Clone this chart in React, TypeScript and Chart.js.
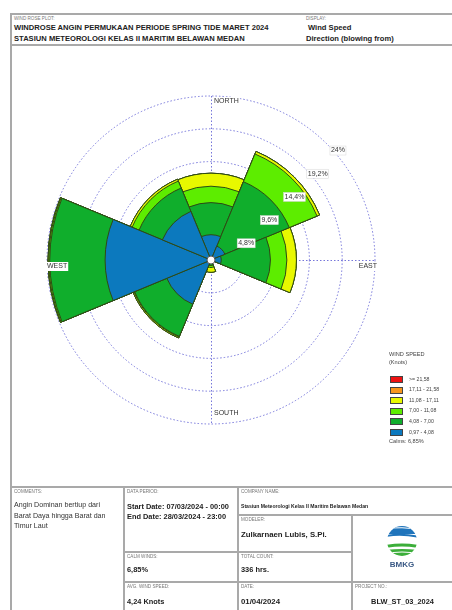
import React, { useEffect, useRef } from "react";
import { Chart, registerables } from "chart.js";

Chart.register(...registerables);

// ---------- data ----------
const DIRECTIONS = ["N", "NE", "E", "SE", "S", "SW", "W", "NW"];
// frequency (%) per direction for each wind speed class (knots)
const FREQ_097_408 = [3.7, 2.2, 1.5, 0, 0.4, 7.0, 15.5, 7.7];
const FREQ_408_700 = [4.7, 10.2, 7.2, 0, 0.4, 5.1, 8.1, 3.7];
const FREQ_700_1108 = [2.4, 4.4, 2.4, 0, 0.3, 0.1, 0.15, 1.1];
const FREQ_1108_1711 = [1.9, 0.4, 1.4, 0, 0.7, 0.15, 0.1, 0.3];
const FREQ_1711_2158 = [0, 0, 0, 0, 0, 0, 0, 0];
const FREQ_GE_2158 = [0, 0, 0, 0, 0, 0, 0, 0];

const SPEED_CLASSES = ["0,97 - 4,08", "4,08 - 7,00", "7,00 - 11,08", "11,08 - 17,11", "17,11 - 21,58", ">= 21,58"];
const CLASS_COLORS = ["#0c79be", "#10ae2c", "#5ded00", "#e8f800", "#f7961c", "#ee1212"];

const RING_VALUES = [4.8, 9.6, 14.4, 19.2, 24];
const RING_LABELS = ["4,8%", "9,6%", "14,4%", "19,2%", "24%"];
const COMPASS_LABELS = ["NORTH", "EAST", "SOUTH", "WEST"];
const CALMS_TEXT = "Calms: 6,85%";
const COMMENT_LINES = ["Angin Dominan bertiup dari", "Barat Daya hingga Barat dan", "Timur Laut"];

const FONT = '"Liberation Sans", Arial, Helvetica, sans-serif';
const GRID_COLOR = "#7676da";
const FRAME = "#a9a9a9";

const BANDS = [FREQ_097_408, FREQ_408_700, FREQ_700_1108, FREQ_1108_1711, FREQ_1711_2158, FREQ_GE_2158];

function cumulative(bands: number[][]): number[][] {
  const out: number[][] = [];
  bands.forEach((b, k) => {
    out.push(b.map((v, i) => (k === 0 ? v : out[k - 1][i] + v)));
  });
  return out;
}

const rosePlugin = {
  id: "roseDecor",
  beforeDatasetsDraw(chart: any) {
    const s = chart.scales.r;
    const ctx = chart.ctx;
    const cx = s.xCenter, cy = s.yCenter;
    const R = s.getDistanceFromCenterForValue(s.max);
    ctx.save();
    ctx.strokeStyle = GRID_COLOR;
    ctx.lineWidth = 1;
    ctx.setLineDash([1.5, 2]);
    ctx.beginPath();
    ctx.moveTo(cx + 0.5, cy - R);
    ctx.lineTo(cx + 0.5, cy + R);
    ctx.moveTo(cx - R, cy + 0.5);
    ctx.lineTo(cx + R, cy + 0.5);
    ctx.stroke();
    ctx.restore();
  },
  afterDatasetsDraw(chart: any) {
    const s = chart.scales.r;
    const ctx = chart.ctx;
    const cx = s.xCenter, cy = s.yCenter;
    const R = s.getDistanceFromCenterForValue(s.max);
    ctx.save();
    // calm circle
    ctx.beginPath();
    ctx.arc(cx, cy, 4, 0, Math.PI * 2);
    ctx.fillStyle = "#ffffff";
    ctx.fill();
    ctx.lineWidth = 1;
    ctx.strokeStyle = "#555";
    ctx.stroke();

    ctx.font = `7px ${FONT}`;
    ctx.textBaseline = "top";
    // ring labels along the NE diagonal
    RING_VALUES.forEach((v, i) => {
      const r = s.getDistanceFromCenterForValue(v);
      const x = cx + r * Math.SQRT1_2 + 4;
      const y = cy - r * Math.SQRT1_2 + 3;
      const w = ctx.measureText(RING_LABELS[i]).width;
      ctx.fillStyle = "#ffffff";
      ctx.fillRect(x - 1, y - 1, w + 2, 9);
      ctx.strokeStyle = "#d6d6d6";
      ctx.lineWidth = 0.5;
      ctx.strokeRect(x - 1, y - 1, w + 2, 9);
      ctx.fillStyle = "#333";
      ctx.textAlign = "left";
      ctx.fillText(RING_LABELS[i], x, y);
    });

    // compass labels
    const box = (text: string, x: number, y: number, align: "left" | "right") => {
      const w = ctx.measureText(text).width;
      const lx = align === "left" ? x : x - w;
      ctx.fillStyle = "#ffffff";
      ctx.fillRect(lx - 1, y - 1, w + 2, 9);
      ctx.fillStyle = "#333";
      ctx.textAlign = "left";
      ctx.fillText(text, lx, y);
    };
    box(COMPASS_LABELS[0], cx + 3, cy - R + 2, "left");
    box(COMPASS_LABELS[1], cx + R + 2, cy + 3, "right");
    box(COMPASS_LABELS[2], cx + 3, cy + R - 14, "left");
    box(COMPASS_LABELS[3], cx - R, cy + 3, "left");
    ctx.restore();
  },
};

function RoseChart() {
  const ref = useRef<HTMLCanvasElement | null>(null);
  useEffect(() => {
    if (!ref.current) return;
    const cum = cumulative(BANDS);
    const chart = new Chart(ref.current, {
      type: "polarArea",
      data: {
        labels: DIRECTIONS,
        datasets: cum.map((vals, k) => ({
          label: SPEED_CLASSES[k],
          data: vals,
          backgroundColor: CLASS_COLORS[k],
          borderColor: "#2f4a14",
          borderWidth: 1,
        })),
      },
      options: {
        responsive: false,
        animation: false,
        layout: { padding: { left: 36, top: 51, right: 77, bottom: 63 } },
        plugins: { legend: { display: false }, tooltip: { enabled: false } },
        scales: {
          r: {
            min: 0,
            max: 24,
            startAngle: -22.5,
            afterBuildTicks: (scale: any) => {
              scale.ticks = [0, ...RING_VALUES].map((v) => ({ value: v }));
            },
            ticks: { display: false },
            grid: { circular: true, color: GRID_COLOR, lineWidth: 1 },
            border: { display: false, dash: [1.5, 2] },
            angleLines: { display: false },
            pointLabels: { display: false },
          },
        },
      } as any,
      plugins: [rosePlugin],
    });
    return () => chart.destroy();
  }, []);
  return <canvas ref={ref} width={441} height={442} style={{ position: "absolute", left: 11, top: 45 }} />;
}

function H({ x, y, w }: { x: number; y: number; w: number }) {
  return <div style={{ position: "absolute", left: x, top: y, width: w, height: 2, background: FRAME }} />;
}
function V({ x, y, h }: { x: number; y: number; h: number }) {
  return <div style={{ position: "absolute", left: x, top: y, width: 2, height: h, background: FRAME }} />;
}
function T({ x, y, size, bold, color, children, w, align, lh }: any) {
  return (
    <div
      style={{
        position: "absolute",
        left: x,
        top: y,
        width: w,
        fontSize: size,
        fontWeight: bold ? 700 : 400,
        color: color || "#222",
        fontFamily: FONT,
        lineHeight: lh ? `${lh}px` : 1,
        whiteSpace: "nowrap",
        textAlign: align || "left",
      }}
    >
      {children}
    </div>
  );
}

function Legend() {
  const order = [5, 4, 3, 2, 1, 0];
  return (
    <>
      <T x={389} y={352} size={5.6} color="#444">WIND SPEED</T>
      <T x={389} y={360} size={5.6} color="#444">(Knots)</T>
      {order.map((k, i) => (
        <React.Fragment key={k}>
          <div
            style={{
              position: "absolute",
              left: 390,
              top: 376 + i * 10.6,
              width: 13,
              height: 7,
              background: CLASS_COLORS[k],
              border: "0.5px solid #444",
              boxSizing: "border-box",
            }}
          />
          <T x={409} y={376.5 + i * 10.6} size={5.2} color="#444">{SPEED_CLASSES[k]}</T>
        </React.Fragment>
      ))}
      <T x={389} y={439} size={5.6} color="#444">{CALMS_TEXT}</T>
    </>
  );
}

function Logo() {
  return (
    <svg width={40} height={46} viewBox="0 0 40 46" style={{ position: "absolute", left: 382, top: 524 }}>
      <defs>
        <clipPath id="lc">
          <circle cx={20} cy={17} r={15} />
        </clipPath>
      </defs>
      <g clipPath="url(#lc)">
        <rect x={0} y={0} width={40} height={10} fill="#1f74bb" />
        <path d="M3 11 Q20 8 37 12 L37 14 Q20 10 3 13 Z" fill="#1f74bb" />
        <path d="M3 21 Q20 18 37 21 L37 24 Q20 21 3 24 Z" fill="#3cae3a" />
        <path d="M3 26 Q20 24 37 26 L37 40 L3 40 Z" fill="#3cae3a" />
        <path d="M3 29 Q20 27 37 29" stroke="#fff" strokeWidth={1} fill="none" />
        <path d="M3 5 Q20 2 37 6" stroke="#fff" strokeWidth={1} fill="none" />
      </g>
      <text x={20} y={43} textAnchor="middle" fontFamily={FONT} fontWeight={700} fontSize={8} fill="#3b5a86">
        BMKG
      </text>
    </svg>
  );
}

export default function App() {
  return (
    <div style={{ position: "absolute", left: 0, top: 0, width: 452, height: 610, background: "#fff", overflow: "hidden" }}>
      {/* header frame */}
      <H x={11} y={13} w={441} />
      <H x={11} y={44} w={441} />
      <V x={10} y={13} h={597} />
      <T x={14} y={17} size={4.6} color="#777">WIND ROSE PLOT:</T>
      <T x={14} y={24} size={7.6} bold>WINDROSE ANGIN PERMUKAAN PERIODE SPRING TIDE MARET 2024</T>
      <T x={14} y={34.5} size={7.6} bold>STASIUN METEOROLOGI KELAS II MARITIM BELAWAN MEDAN</T>
      <T x={306} y={17} size={4.6} color="#777">DISPLAY:</T>
      <T x={308} y={24} size={7.6} bold>Wind Speed</T>
      <T x={306} y={34.5} size={7.6} bold>Direction (blowing from)</T>

      <RoseChart />
      <Legend />

      {/* bottom table */}
      <H x={11} y={486} w={441} />
      <V x={123} y={486} h={124} />
      <V x={237} y={486} h={124} />
      <V x={351} y={515} h={95} />
      <H x={237} y={514} w={215} />
      <H x={123} y={551} w={229} />
      <H x={123} y={581} w={329} />

      <T x={14} y={490} size={4.6} color="#777">COMMENTS:</T>
      {COMMENT_LINES.map((line, i) => (
        <T key={i} x={14} y={502 + i * 10.5} size={7.1} color="#333">{line}</T>
      ))}

      <T x={127} y={490} size={4.6} color="#777">DATA PERIOD:</T>
      <T x={127} y={503} size={7.4} bold>Start Date: 07/03/2024 - 00:00</T>
      <T x={127} y={512.5} size={7.4} bold>End Date: 28/03/2024 - 23:00</T>
      <T x={127} y={555} size={4.6} color="#777">CALM WINDS:</T>
      <T x={127} y={566} size={7.4} bold>6,85%</T>
      <T x={127} y={585} size={4.6} color="#777">AVG. WIND SPEED:</T>
      <T x={127} y={598} size={7.4} bold>4,24 Knots</T>

      <T x={241} y={490} size={4.6} color="#777">COMPANY NAME:</T>
      <T x={241} y={503.5} size={5.1} bold>Stasiun Meteorologi Kelas II Maritim Belawan Medan</T>
      <T x={241} y={518} size={4.6} color="#777">MODELER:</T>
      <T x={241} y={531} size={7.8} bold>Zulkarnaen Lubis, S.Pi.</T>
      <T x={241} y={555} size={4.6} color="#777">TOTAL COUNT:</T>
      <T x={241} y={566} size={7.4} bold>336 hrs.</T>
      <T x={241} y={585} size={4.6} color="#777">DATE:</T>
      <T x={241} y={598} size={7.8} bold>01/04/2024</T>

      <Logo />
      <T x={355} y={585} size={4.6} color="#777">PROJECT NO.:</T>
      <T x={353} y={598} w={99} align="center" size={7.4} bold>BLW_ST_03_2024</T>
    </div>
  );
}
